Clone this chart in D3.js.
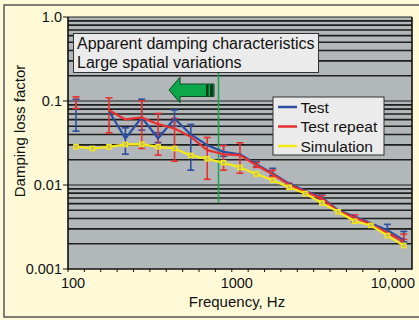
<!DOCTYPE html>
<html>
<head>
<meta charset="utf-8">
<script src="https://cdn.jsdelivr.net/npm/d3@7.9.0/dist/d3.min.js"></script>
<style>
  html, body { margin: 0; padding: 0; background: #fefad8; }
  svg { display: block; font-family: "Liberation Sans", Arial, sans-serif; }
</style>
</head>
<body>
<svg id="chart" width="419" height="320"></svg>
<script>
// 1/3-octave band frequencies (Hz)
const freqs = [112, 141, 178, 224, 282, 355, 447, 562, 708, 891, 1122, 1413, 1778, 2239, 2818, 3548, 4467, 5623, 7079, 8913, 11220];

// damping loss factor per band (null = no value)
const testVals   = [0.068, null, 0.0756, 0.0358, 0.0637, 0.0358, 0.0619, 0.040, 0.0298, 0.0248, 0.0232, 0.0177, 0.0137, 0.0104, 0.0085, 0.0071, 0.0050, 0.0042, 0.0035, 0.0029, 0.0022];
const repeatVals = [0.092, null, 0.0777, 0.0603, 0.0637, 0.053, 0.0471, 0.0374, 0.026, 0.0232, 0.0227, 0.0172, 0.0134, 0.0101, 0.0083, 0.0069, 0.0049, 0.0041, 0.0034, 0.0027, 0.0021];
const simVals    = [0.0286, 0.0272, 0.0285, 0.0304, 0.0306, 0.0285, 0.0272, 0.0225, 0.0205, 0.0184, 0.0162, 0.0135, 0.0114, 0.0094, 0.0079, 0.0061, 0.0048, 0.0037, 0.0033, 0.0025, 0.0019];

// error bar ranges
const testHi   = [0.105, null, null, 0.0479, 0.105, 0.042, 0.078, 0.0526, null, 0.030, null, 0.0189, 0.0158, null, null, 0.0076, null, null, null, 0.0034, 0.0028];
const testLo   = [0.0437, null, null, 0.0233, 0.045, 0.032, 0.05, 0.015, null, 0.022, null, 0.0165, 0.013, null, null, 0.0068, null, null, null, 0.0026, 0.0021];
const repeatHi = [0.112, null, 0.109, null, 0.100, 0.071, 0.062, null, 0.0368, 0.0295, 0.0318, 0.0185, 0.015, 0.0105, null, 0.0075, null, 0.0044, null, null, 0.0026];
const repeatLo = [0.0814, null, 0.0418, null, 0.0272, 0.0227, 0.0192, null, 0.0117, 0.015, 0.0138, 0.0162, 0.0125, 0.0091, null, 0.0067, null, 0.00365, null, null, 0.00225];

const xTickVals = [100, 1000, 10000];
const xTickLabels = ['100', '1000', '10,000'];
const yTickVals = [1, 0.1, 0.01, 0.001];
const yTickLabels = ['1.0', '0.1', '0.01', '0.001'];

const seriesNames = ['Test', 'Test repeat', 'Simulation'];
const seriesColors = ['#2c4fa3', '#e8312f', '#f7ea14'];

const noteLines = ['Apparent damping characteristics', 'Large spatial variations'];
const markerFreq = 830;

const svg = d3.select('#chart');

// outer frame
svg.append('rect')
  .attr('x', 4).attr('y', 5).attr('width', 420).attr('height', 312)
  .attr('fill', '#fefad8').attr('stroke', '#555').attr('stroke-width', 1.5);

const x = d3.scaleLog().domain([100, 12600]).range([68, 412]);
const y = d3.scaleLog().domain([0.001, 1]).range([269, 17]);

// plot background
svg.append('rect')
  .attr('x', x.range()[0]).attr('y', y.range()[1])
  .attr('width', x.range()[1] - x.range()[0]).attr('height', y.range()[0] - y.range()[1])
  .attr('fill', '#b2b7b9');

// horizontal grid at every log step
const gridVals = [];
[0.001, 0.01, 0.1].forEach(dec => {
  for (let m = 1; m <= 9; m++) gridVals.push(dec * m);
});
gridVals.push(1);
svg.append('g').selectAll('line')
  .data(gridVals.filter(v => v > 0.001))
  .join('line')
  .attr('x1', x.range()[0]).attr('x2', x.range()[1])
  .attr('y1', d => y(d)).attr('y2', d => y(d))
  .attr('stroke', '#1e1e1e')
  .attr('stroke-width', d => (Math.abs(Math.log10(d) - Math.round(Math.log10(d))) < 1e-6 ? 1 : 1.6));

// plot frame (left, bottom, right)
svg.append('path')
  .attr('d', `M${x.range()[0]},${y.range()[1]}V${y.range()[0]}H${x.range()[1]}V${y.range()[1]}`)
  .attr('fill', 'none').attr('stroke', '#111').attr('stroke-width', 1.6);

// x axis ticks (1/3-octave spacing)
const minorX = d3.range(0, 21).map(k => Math.pow(10, 2 + k / 10));
svg.append('g').selectAll('line')
  .data(minorX)
  .join('line')
  .attr('x1', d => x(d)).attr('x2', d => x(d))
  .attr('y1', y.range()[0]).attr('y2', y.range()[0] + 3)
  .attr('stroke', '#111').attr('stroke-width', 1);

svg.append('g').selectAll('text')
  .data(xTickVals)
  .join('text')
  .attr('x', (d, i) => i === xTickVals.length - 1 ? 415 : x(d) + 5)
  .attr('y', 288)
  .attr('text-anchor', (d, i) => i === xTickVals.length - 1 ? 'end' : 'middle')
  .attr('font-size', 14.5)
  .attr('fill', '#111')
  .text((d, i) => xTickLabels[i]);

// y axis ticks
svg.append('g').selectAll('line')
  .data(yTickVals)
  .join('line')
  .attr('x1', x.range()[0] - 5).attr('x2', x.range()[0])
  .attr('y1', d => y(d)).attr('y2', d => y(d))
  .attr('stroke', '#111').attr('stroke-width', 1);

svg.append('g').selectAll('text')
  .data(yTickVals)
  .join('text')
  .attr('x', 62)
  .attr('y', d => y(d) + 5)
  .attr('text-anchor', 'end')
  .attr('font-size', 14.5)
  .attr('fill', '#111')
  .text((d, i) => yTickLabels[i]);

// axis titles
svg.append('text')
  .attr('x', 237).attr('y', 307)
  .attr('text-anchor', 'middle').attr('font-size', 15).attr('fill', '#111')
  .text('Frequency, Hz');

svg.append('text')
  .attr('transform', 'translate(25,131) rotate(-90)')
  .attr('text-anchor', 'middle').attr('font-size', 15).attr('fill', '#111')
  .text('Damping loss factor');

// note box
const note = svg.append('g');
note.append('rect')
  .attr('x', 73.5).attr('y', 33.5).attr('width', 245).attr('height', 39)
  .attr('fill', '#ebebeb').attr('stroke', '#333').attr('stroke-width', 1);
note.selectAll('text')
  .data(noteLines)
  .join('text')
  .attr('x', 77).attr('y', (d, i) => 49 + i * 18.5)
  .attr('font-size', 16).attr('fill', '#111')
  .text(d => d);

// vertical marker line
svg.append('line')
  .attr('x1', x(markerFreq)).attr('x2', x(markerFreq))
  .attr('y1', 73).attr('y2', 203)
  .attr('stroke', '#19a84a').attr('stroke-width', 1.5);

// green arrow pointing to lower frequencies
const ax = x(markerFreq) - 4.5;
const ay = 90;
const arrow = svg.append('g');
arrow.append('path')
  .attr('d', `M${ax - 45},${ay} L${ax - 34},${ay - 12.7} L${ax - 34},${ay - 6} L${ax},${ay - 6} L${ax},${ay + 6.5} L${ax - 34},${ay + 6.5} L${ax - 34},${ay + 12.7} Z`)
  .attr('fill', '#0ca64b').attr('stroke', '#0d4a22').attr('stroke-width', 1);
arrow.append('rect').attr('x', ax - 8).attr('y', ay - 5.5).attr('width', 2.5).attr('height', 11.5).attr('fill', '#0b3b1a');
arrow.append('rect').attr('x', ax - 4).attr('y', ay - 5.5).attr('width', 3).attr('height', 11.5).attr('fill', '#0b3b1a');

// error bars
function drawBars(lo, hi, color) {
  const idx = freqs.map((f, i) => i).filter(i => lo[i] != null && hi[i] != null);
  const g = svg.append('g').attr('stroke', color).attr('stroke-width', 1.6);
  g.selectAll('line.v')
    .data(idx).join('line').attr('class', 'v')
    .attr('x1', i => x(freqs[i])).attr('x2', i => x(freqs[i]))
    .attr('y1', i => y(hi[i])).attr('y2', i => y(lo[i]));
  g.selectAll('line.t')
    .data(idx).join('line').attr('class', 't')
    .attr('x1', i => x(freqs[i]) - 3.5).attr('x2', i => x(freqs[i]) + 3.5)
    .attr('y1', i => y(hi[i])).attr('y2', i => y(hi[i]));
  g.selectAll('line.b')
    .data(idx).join('line').attr('class', 'b')
    .attr('x1', i => x(freqs[i]) - 3.5).attr('x2', i => x(freqs[i]) + 3.5)
    .attr('y1', i => y(lo[i])).attr('y2', i => y(lo[i]));
}
drawBars(testLo, testHi, seriesColors[0]);
drawBars(repeatLo, repeatHi, seriesColors[1]);

// lines
const line = d3.line()
  .defined(d => d[1] != null)
  .x(d => x(d[0]))
  .y(d => y(d[1]));

[testVals, repeatVals, simVals].forEach((vals, s) => {
  svg.append('path')
    .datum(freqs.map((f, i) => [f, vals[i]]))
    .attr('d', line)
    .attr('fill', 'none')
    .attr('stroke', seriesColors[s])
    .attr('stroke-width', 2.2)
    .attr('stroke-linejoin', 'round');
});

// simulation markers
svg.append('g').selectAll('rect')
  .data(freqs.map((f, i) => [f, simVals[i]]))
  .join('rect')
  .attr('x', d => x(d[0]) - 2.2).attr('y', d => y(d[1]) - 2.2)
  .attr('width', 4.4).attr('height', 4.4)
  .attr('fill', '#c9c35a').attr('stroke', '#f7ea14').attr('stroke-width', 1.2);

// legend
const legend = svg.append('g');
legend.append('rect')
  .attr('x', 273).attr('y', 97).attr('width', 111).attr('height', 58)
  .attr('fill', '#ebebeb').attr('stroke', '#333').attr('stroke-width', 1);
seriesNames.forEach((name, i) => {
  const ly = 107 + i * 19.5;
  legend.append('line')
    .attr('x1', 278).attr('x2', 297).attr('y1', ly).attr('y2', ly)
    .attr('stroke', seriesColors[i]).attr('stroke-width', 2.5);
  legend.append('text')
    .attr('x', 300.5).attr('y', ly + 5.5)
    .attr('font-size', 15.5).attr('fill', '#111')
    .text(name);
});
</script>
</body>
</html>
